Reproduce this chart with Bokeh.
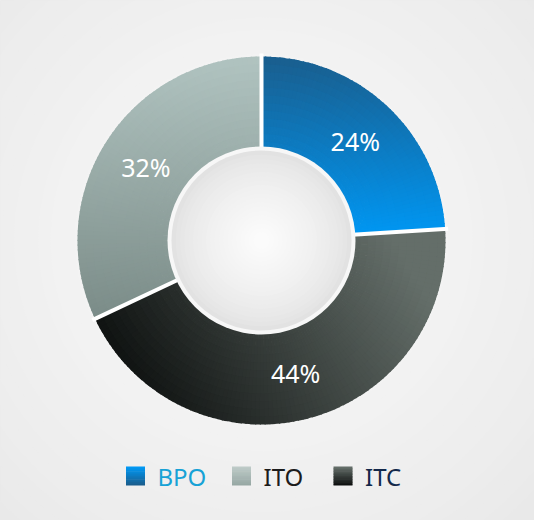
import numpy as np
from bokeh.plotting import figure
from bokeh.models import ColumnDataSource, Range1d
from bokeh.core.properties import value
from bokeh.embed import file_html
from bokeh.resources import INLINE

# ---- data ----
slice_labels = ["BPO", "ITC", "ITO"]          # clockwise from 12 o'clock
slice_values = [24, 44, 32]
legend_labels = ["BPO", "ITO", "ITC"]
legend_text_colors = ["#17a2d6", "#1c1c1c", "#13284a"]

# ---- styles ----
FONT = "Noto Sans"
R_OUT, R_IN = 184.0, 91.0
CX_IMG, CY_IMG = 269.0, 248.0   # donut centre in page pixels (used for gradients)

# gradient: (pointA, pointB) in page px, colorA, colorB
grad = {
    "BPO": ((0, 61), (0, 243), "#1a5d8c", "#0097f3"),
    "ITO": ((0, 61), (0, 330), "#b1c4c1", "#7a8b87"),
    "ITC": ((160, 440), (420, 280), "#0d100f", "#646e69"),
}
legend_grad = {
    "BPO": ("#0098f4", "#195d8d"),
    "ITO": ("#bdcac7", "#97a8a4"),
    "ITC": ("#636d68", "#0e1110"),
}


def hex2rgb(h):
    h = h.lstrip("#")
    return np.array([int(h[i:i + 2], 16) for i in (0, 2, 4)], dtype=float)


def mix(c0, c1, t):
    c = hex2rgb(c0) * (1 - t) + hex2rgb(c1) * t
    return "#%02x%02x%02x" % tuple(int(round(v)) for v in c)


def grad_color(name, xi, yi):
    (ax, ay), (bx, by), c0, c1 = grad[name]
    vx, vy = bx - ax, by - ay
    t = ((xi - ax) * vx + (yi - ay) * vy) / (vx * vx + vy * vy)
    return mix(c0, c1, min(max(t, 0.0), 1.0))


W, H = 534, 520
p = figure(width=W, height=H, output_backend="svg", toolbar_location=None,
           x_range=Range1d(-261, W - 261), y_range=Range1d(-(H - 240), 240),
           min_border=0)
p.axis.visible = False
p.grid.visible = False
p.outline_line_color = None
p.background_fill_color = "#e6e6e6"
p.border_fill_color = "#e6e6e6"

# ---- radial background glow ----
bg_r = np.linspace(430, 150, 24)
bg_c = [mix("#e6e6e6", "#f4f4f4", (i / 23) ** 0.8) for i in range(24)]
p.circle(x=[0] * 24, y=[0] * 24, radius=bg_r, fill_color=bg_c, line_color=None)

# ---- donut slices (drawn as fine sub-wedges to emulate gradients) ----
total = float(sum(slice_values))
cum = np.cumsum([0] + slice_values) / total
starts = np.pi / 2 - 2 * np.pi * cum[:-1]
ends = np.pi / 2 - 2 * np.pi * cum[1:]

sx, sy, sir, sor, sa0, sa1, scol = [], [], [], [], [], [], []
n_rings = 12
ring_edges = np.linspace(R_IN, R_OUT, n_rings + 1)
for lab, a_hi, a_lo in zip(slice_labels, starts, ends):
    span = a_hi - a_lo
    n_ang = int(np.ceil(np.degrees(span) / 1.5))
    ang_edges = np.linspace(a_lo, a_hi, n_ang + 1)
    for k in range(n_rings):
        r0 = ring_edges[k]
        r1 = ring_edges[k + 1] + (1.0 if k < n_rings - 1 else 0.0)
        rm = 0.5 * (ring_edges[k] + ring_edges[k + 1])
        for j in range(n_ang):
            t0 = ang_edges[j]
            t1 = ang_edges[j + 1] + (np.radians(0.4) if j < n_ang - 1 else 0.0)
            tm = 0.5 * (ang_edges[j] + ang_edges[j + 1])
            xi = CX_IMG + rm * np.cos(tm)
            yi = CY_IMG - rm * np.sin(tm)
            sx.append(0); sy.append(0)
            sir.append(r0); sor.append(r1)
            sa0.append(t0); sa1.append(t1)
            scol.append(grad_color(lab, xi, yi))

src = ColumnDataSource(dict(x=sx, y=sy, ir=sir, orr=sor, a0=sa0, a1=sa1, c=scol))
p.annular_wedge(x="x", y="y", inner_radius="ir", outer_radius="orr",
                start_angle="a0", end_angle="a1", fill_color="c",
                line_color=None, source=src)

# white separators
p.segment(x0=list(R_IN * np.cos(starts)), y0=list(R_IN * np.sin(starts)),
          x1=list((R_OUT + 3) * np.cos(starts)), y1=list((R_OUT + 3) * np.sin(starts)),
          line_color="white", line_width=4)

# centre hole: white rim + soft radial gradient
p.circle(x=[0], y=[0], radius=[94], fill_color="#f7f7f7", line_color=None)
hole_r = np.linspace(90, 8, 20)
hole_c = [mix("#e2e2e2", "#fbfbfb", (i / 19) ** 0.7) for i in range(20)]
p.circle(x=[0] * 20, y=[0] * 20, radius=hole_r, fill_color=hole_c, line_color=None)

# percentage labels
mid = 0.5 * (starts + ends)
r_lab = 137
p.text(x=list(r_lab * np.cos(mid)), y=list(r_lab * np.sin(mid)),
       text=[f"{v}%" for v in slice_values],
       text_color="white", text_font=value(FONT), text_font_size="25px",
       text_align="center", text_baseline="middle")

# ---- legend ----
leg_sq_x = [-126, -20, 81.5]
leg_y = -235.5
sq = 19
ql, qr, qt, qb, qc = [], [], [], [], []
n_strip = 12
for lab, cx in zip(legend_labels, leg_sq_x):
    c_top, c_bot = legend_grad[lab]
    for s in range(n_strip):
        top = leg_y + sq / 2 - s * sq / n_strip
        bot = top - sq / n_strip - (0.6 if s < n_strip - 1 else 0)
        ql.append(cx - sq / 2); qr.append(cx + sq / 2)
        qt.append(top); qb.append(bot)
        qc.append(mix(c_top, c_bot, s / (n_strip - 1)))
p.quad(left=ql, right=qr, top=qt, bottom=qb, fill_color=qc, line_color=None)

p.text(x=[cx + 22 for cx in leg_sq_x], y=[leg_y] * 3, text=legend_labels,
       text_color=legend_text_colors, text_font=value(FONT), text_font_size="24px",
       text_align="left", text_baseline="middle")

open("out.html", "w").write(file_html(p, INLINE))
